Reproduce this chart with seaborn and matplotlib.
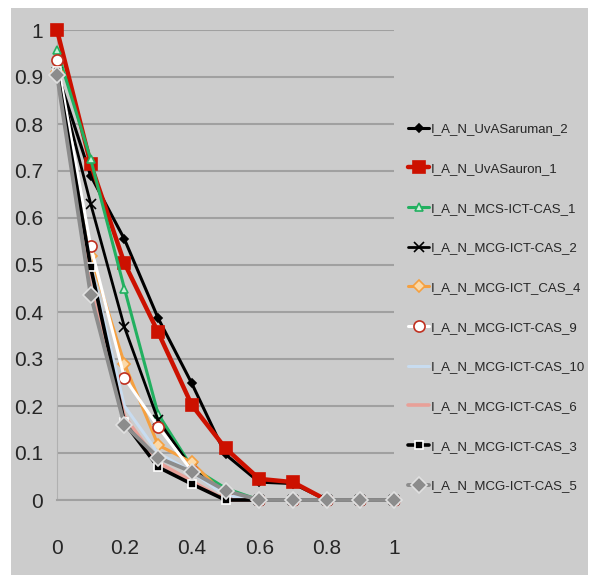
import numpy as np
import pandas as pd
import seaborn as sns
import matplotlib.pyplot as plt
from matplotlib.patches import Rectangle

# recall values at each threshold 0.0 .. 1.0
x = [0.0, 0.1, 0.2, 0.3, 0.4, 0.5, 0.6, 0.7, 0.8, 0.9, 1.0]

saruman_2 = [0.91, 0.69, 0.555, 0.387, 0.248, 0.097, 0.038, 0.035, 0, 0, 0]
sauron_1 = [1.0, 0.715, 0.504, 0.357, 0.202, 0.11, 0.045, 0.038, 0, np.nan, np.nan]
mcs_1 = [0.957, 0.725, 0.45, 0.183, 0.07, 0.025, 0, 0, 0, 0, 0]
mcg_2 = [0.91, 0.63, 0.368, 0.17, 0.068, 0.01, 0, 0, 0, 0, 0]
mcg_4 = [0.91, 0.52, 0.29, 0.117, 0.08, 0.01, 0, 0, 0, 0, 0]
mcg_9 = [0.936, 0.54, 0.26, 0.156, 0.062, 0.01, 0, 0, 0, 0, 0]
mcg_10 = [0.91, 0.5, 0.2, 0.1, 0.06, 0.01, 0, 0, 0, 0, 0]
mcg_6 = [0.91, 0.45, 0.178, 0.08, 0.04, 0.0, 0, 0, 0, 0, 0]
mcg_3 = [0.912, 0.495, 0.165, 0.07, 0.034, 0.0, 0, 0, 0, 0, 0]
mcg_5 = [0.905, 0.436, 0.16, 0.09, 0.06, 0.02, 0, 0, 0, 0, 0]

labels = ['I_A_N_UvASaruman_2', 'I_A_N_UvASauron_1', 'I_A_N_MCS-ICT-CAS_1',
          'I_A_N_MCG-ICT-CAS_2', 'I_A_N_MCG-ICT_CAS_4', 'I_A_N_MCG-ICT-CAS_9',
          'I_A_N_MCG-ICT-CAS_10', 'I_A_N_MCG-ICT-CAS_6', 'I_A_N_MCG-ICT-CAS_3',
          'I_A_N_MCG-ICT-CAS_5']
series = [saruman_2, sauron_1, mcs_1, mcg_2, mcg_4, mcg_9, mcg_10, mcg_6, mcg_3, mcg_5]

# style per series: color, marker, marker size, face color, edge color, line width
styles = [
    ('black', 'D', 4, 'black', 'black', 2.2),
    ('#cc1100', 's', 9, '#cc1100', '#cc1100', 3.2),
    ('#22b060', '^', 6, '#c8f0d8', '#22b060', 2.2),
    ('black', 'x', 7, 'black', 'black', 2.0),
    ('#f5a040', 'D', 6, '#fbd9a8', '#f5a040', 2.2),
    ('white', 'o', 8, 'white', '#c03020', 2.2),
    ('#c8dcf0', None, 0, 'none', 'none', 2.2),
    ('#e8a098', None, 0, 'none', 'none', 2.6),
    ('black', 's', 6, 'black', 'white', 2.6),
    ('#8c8c8c', 'D', 8.5, '#8c8c8c', '#e0e0e0', 2.8),
]

sns.set_style('white')
plt.rcParams['font.family'] = ['Liberation Sans Narrow', 'Liberation Sans', 'DejaVu Sans']

fig = plt.figure(figsize=(5.94, 5.75), dpi=100, facecolor='white')
fig.patches.append(Rectangle((11 / 594, 0), 577 / 594, 567 / 575, transform=fig.transFigure,
                             facecolor='#cccccc', edgecolor='none', zorder=-5))
ax = fig.add_axes([57 / 594, 75 / 575, 337 / 594, 470 / 575])
ax.set_facecolor('none')

for vals, lab, (c, m, ms, fc, ec, lw) in zip(series, labels, styles):
    # the red series shows no marker where it reaches zero
    every = list(range(8)) if vals is sauron_1 else None
    sns.lineplot(x=x, y=vals, ax=ax, color=c, lw=lw, marker=m, markersize=ms,
                 markerfacecolor=fc, markeredgecolor=ec, markeredgewidth=1.2,
                 markevery=every, label=lab, clip_on=False, zorder=3)

ax.set_xlim(0, 1)
ax.set_ylim(0, 1)
ax.set_yticks(np.arange(0, 1.01, 0.1))
ax.set_yticklabels(['0', '0.1', '0.2', '0.3', '0.4', '0.5', '0.6', '0.7', '0.8', '0.9', '1'])
ax.set_xticks([0, 0.2, 0.4, 0.6, 0.8, 1.0])
ax.set_xticklabels(['0', '0.2', '0.4', '0.6', '0.8', '1'])
ax.grid(axis='y', color='#a0a0a0', lw=1.5)
ax.grid(axis='x', visible=False)
for s in ['top', 'right']:
    ax.spines[s].set_visible(False)
ax.spines['left'].set_color('#b0b0b0')
ax.spines['bottom'].set_color('#a0a0a0')
ax.spines['bottom'].set_linewidth(1.5)
ax.tick_params(axis='y', length=3, color='#a0a0a0', pad=7, labelsize=15)
ax.tick_params(axis='x', length=6, color='#b0b0b0', pad=22, labelsize=15, direction='out')
ax.set_xlabel('')
ax.set_ylabel('')

ax.legend(loc='upper left', bbox_to_anchor=(408 / 594, 1 - 123 / 575),
          bbox_transform=fig.transFigure, frameon=False, fontsize=9.5,
          labelspacing=2.08, handlelength=1.6, handletextpad=0.15, borderaxespad=0,
          borderpad=0)

fig.savefig('out.png', dpi=100, facecolor='white')
